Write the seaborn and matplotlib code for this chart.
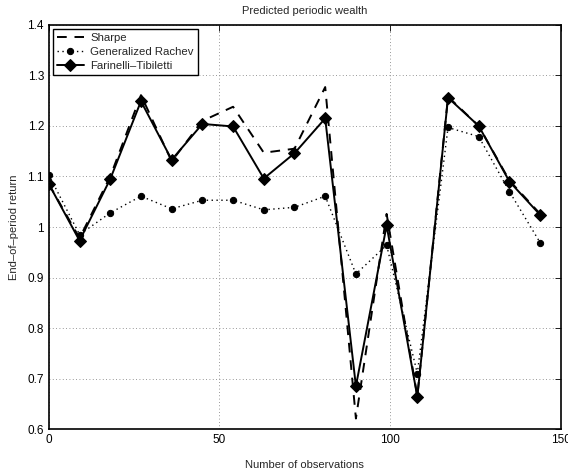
import numpy as np
import pandas as pd
import matplotlib
matplotlib.use("Agg")
import matplotlib.pyplot as plt
import seaborn as sns

obs = [0, 9, 18, 27, 36, 45, 54, 63, 72, 81, 90, 99, 108, 117, 126, 135, 144]
sharpe = [1.085, 0.978, 1.100, 1.261, 1.130, 1.210, 1.238, 1.147, 1.155, 1.277,
          0.621, 1.026, 0.665, 1.258, 1.200, 1.092, 1.026]
rachev = [1.103, 0.985, 1.028, 1.061, 1.036, 1.053, 1.053, 1.034, 1.039, 1.061,
          0.907, 0.964, 0.710, 1.197, 1.179, 1.070, 0.969]
farinelli = [1.085, 0.973, 1.095, 1.249, 1.133, 1.204, 1.199, 1.096, 1.146, 1.215,
             0.685, 1.003, 0.664, 1.256, 1.200, 1.090, 1.024]
names = ["Sharpe", "Generalized Rachev", "Farinelli\u2013Tibiletti"]
xticks = [0, 50, 100, 150]
yticks = [0.6, 0.7, 0.8, 0.9, 1.0, 1.1, 1.2, 1.3, 1.4]
yticklabels = ["0.6", "0.7", "0.8", "0.9", "1", "1.1", "1.2", "1.3", "1.4"]

sns.set_style("white")
plt.rcParams['font.family'] = ['Liberation Sans', 'DejaVu Sans']

df = pd.DataFrame({"obs": obs * 3,
                   "value": sharpe + rachev + farinelli,
                   "method": [names[0]] * len(obs) + [names[1]] * len(obs) + [names[2]] * len(obs)})

fig = plt.figure(figsize=(5.68, 4.70), dpi=100)
ax = fig.add_axes([0.086, 0.087, 0.901, 0.860])

styles = {
    names[0]: dict(linestyle=(0, (5, 4)), marker=None, lw=1.4),
    names[1]: dict(linestyle=(0, (1, 2.5)), marker='o', markersize=4.5, lw=1.0),
    names[2]: dict(linestyle='-', marker='D', markersize=6, lw=1.4),
}
for n in names:
    sub = df[df["method"] == n]
    st = styles[n]
    sns.lineplot(data=sub, x="obs", y="value", ax=ax, color='black', label=n,
                 linestyle=st['linestyle'], marker=st['marker'],
                 markersize=st.get('markersize', 0), linewidth=st['lw'],
                 markeredgecolor='black', markerfacecolor='black')

ax.set_xlim(0, 150)
ax.set_ylim(0.6, 1.4)
ax.set_xticks(xticks)
ax.set_yticks(yticks)
ax.set_yticklabels(yticklabels)
ax.grid(True, linestyle=(0, (1, 3)), color='#777777', linewidth=0.6)
ax.tick_params(direction='in', length=4, labelsize=8.5, top=True, right=True,
               colors='black', width=0.6)
for s in ax.spines.values():
    s.set_visible(True)
    s.set_color('black')
    s.set_linewidth(1.2)
ax.set_xlabel("Number of observations", fontsize=8, labelpad=10)
ax.set_ylabel("End\u2013of\u2013period return", fontsize=8, labelpad=6)
ax.set_title("Predicted periodic wealth", fontsize=8, pad=8)
leg = ax.legend(loc='upper left', fontsize=8.2, frameon=True, fancybox=False,
                edgecolor='black', framealpha=1, borderaxespad=0.4,
                handlelength=2.3, handletextpad=0.6, labelspacing=0.35, borderpad=0.35)
leg.get_frame().set_linewidth(1.0)

fig.savefig("out.png", dpi=100)
